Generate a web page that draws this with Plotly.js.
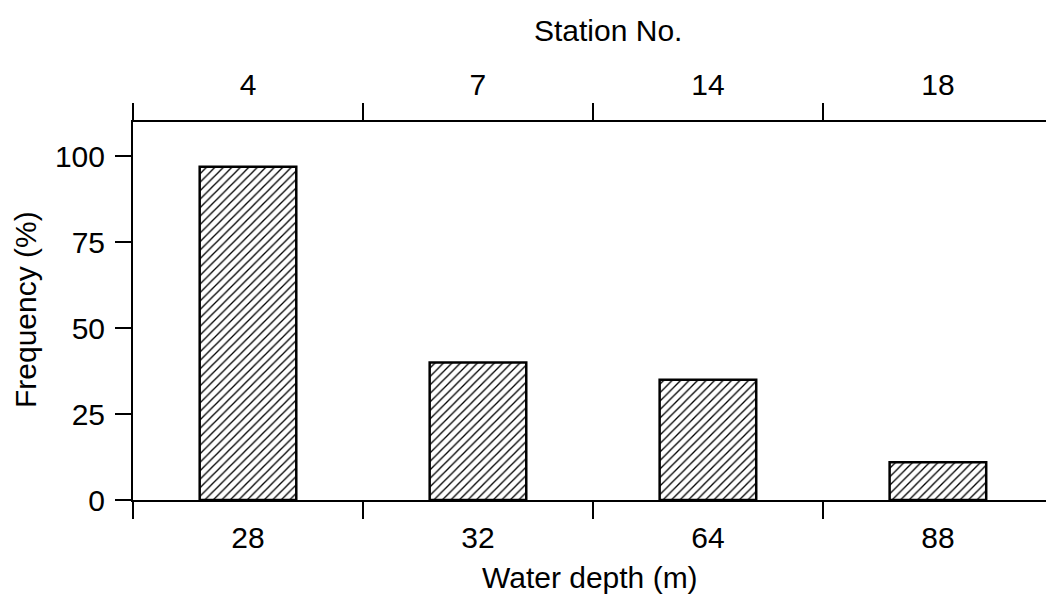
<!DOCTYPE html>
<html>
<head>
<meta charset="utf-8">
<script src="https://cdn.plot.ly/plotly-3.0.1.min.js"></script>
<style>html,body{margin:0;padding:0;background:#fff;overflow:hidden;}#chart{width:1046px;height:595px;}</style>
</head>
<body>
<div id="chart"></div>
<script>
const waterDepth = ["28", "32", "64", "88"];
const stations = ["4", "7", "14", "18"];
const frequency = [97, 40, 35, 11];
const yTicks = [0, 25, 50, 75, 100];

const FONT = "Liberation Sans, Arial, sans-serif";
const FS = 30;

const traces = [
  {
    type: "bar",
    x: waterDepth,
    y: frequency,
    xaxis: "x",
    yaxis: "y",
    width: 0.42,
    marker: {
      color: "#ffffff",
      line: {color: "#000000", width: 2.5},
      pattern: {shape: "/", fgcolor: "#000000", bgcolor: "#ffffff", size: 6, solidity: 0.22}
    },
    hoverinfo: "skip",
    showlegend: false
  },
  {
    type: "scatter",
    mode: "markers",
    x: stations,
    y: frequency,
    xaxis: "x2",
    yaxis: "y",
    marker: {opacity: 0, size: 1},
    hoverinfo: "skip",
    showlegend: false
  }
];

const commonX = {
  type: "category",
  range: [-0.5, 3.47],
  tickson: "boundaries",
  ticks: "outside",
  ticklen: 17,
  tickwidth: 2,
  tickcolor: "#000",
  showline: true,
  linecolor: "#000",
  linewidth: 2,
  showgrid: false,
  zeroline: false,
  ticklabelstandoff: 10,
  tickfont: {family: FONT, size: FS, color: "#000"},
  fixedrange: true
};

const layout = {
  width: 1046,
  height: 595,
  margin: {l: 133, r: 0, t: 122, b: 95, pad: 0, autoexpand: false},
  paper_bgcolor: "#ffffff",
  plot_bgcolor: "#ffffff",
  font: {family: FONT, size: FS, color: "#000"},
  showlegend: false,
  xaxis: Object.assign({}, commonX, {
    side: "bottom",
    categoryorder: "array",
    categoryarray: waterDepth,
    anchor: "y",
    automargin: false
  }),
  xaxis2: Object.assign({}, commonX, {
    side: "top",
    overlaying: "x",
    categoryorder: "array",
    categoryarray: stations,
    anchor: "y",
    ticklabelstandoff: 13,
    automargin: false
  }),
  yaxis: {
    range: [0, 110],
    tickmode: "array",
    tickvals: yTicks,
    ticktext: yTicks.map(String),
    ticks: "outside",
    ticklen: 16,
    tickwidth: 2,
    tickcolor: "#000",
    showline: true,
    linecolor: "#000",
    linewidth: 2,
    showgrid: false,
    zeroline: false,
    ticklabelstandoff: 4,
    automargin: false,
    tickfont: {family: FONT, size: FS, color: "#000"},
    fixedrange: true
  },
  annotations: [
    {text: "Station No.", xref: "paper", yref: "paper", x: 0.52, y: 1.243,
     xanchor: "center", yanchor: "middle", showarrow: false,
     font: {family: FONT, size: FS, color: "#000"}},
    {text: "Water depth (m)", xref: "paper", yref: "paper", x: 0.5, y: -0.206,
     xanchor: "center", yanchor: "middle", showarrow: false,
     font: {family: FONT, size: FS, color: "#000"}},
    {text: "Frequency (%)", xref: "paper", yref: "paper", x: -0.117, y: 0.503,
     xanchor: "center", yanchor: "middle", showarrow: false, textangle: -90,
     font: {family: FONT, size: FS, color: "#000"}}
  ]
};

Plotly.newPlot("chart", traces, layout, {displayModeBar: false, staticPlot: true});
</script>
</body>
</html>
